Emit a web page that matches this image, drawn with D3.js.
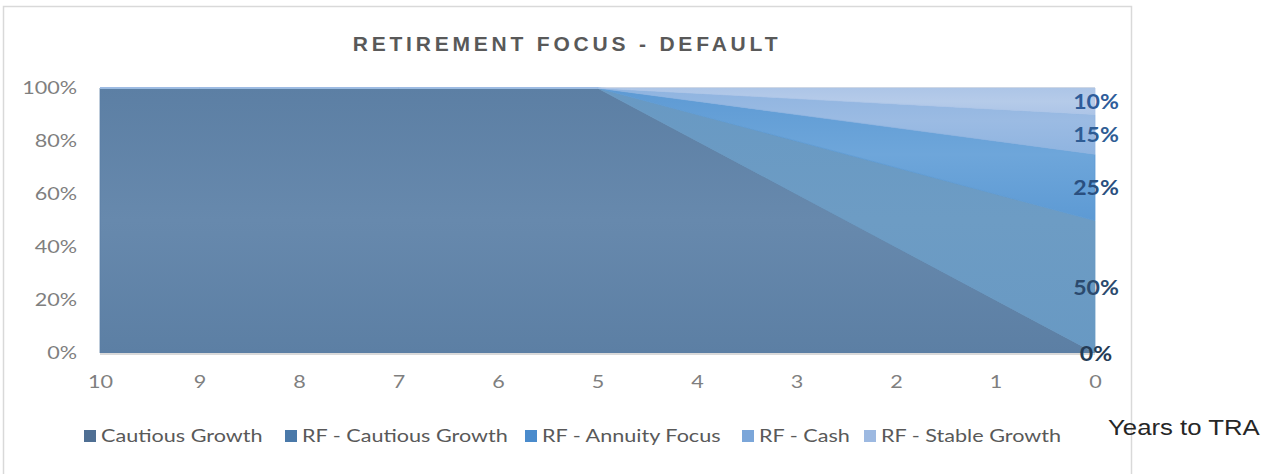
<!DOCTYPE html>
<html>
<head>
<meta charset="utf-8">
<script src="https://cdn.jsdelivr.net/npm/d3@7"></script>
<style>
  body { margin: 0; background: #fff; }
  svg { display: block; }
</style>
</head>
<body>
<div class="chart"></div>
<script>
//Data
var years = [10, 9, 8, 7, 6, 5, 4, 3, 2, 1, 0];
var seriesNames = ["Cautious Growth", "RF - Cautious Growth", "RF - Annuity Focus", "RF - Cash", "RF - Stable Growth"];
var cautiousGrowth = [100, 100, 100, 100, 100, 100, 80, 60, 40, 20, 0];
var rfCautiousGrowth = [0, 0, 0, 0, 0, 0, 10, 20, 30, 40, 50];
var rfAnnuityFocus = [0, 0, 0, 0, 0, 0, 5, 10, 15, 20, 25];
var rfCash = [0, 0, 0, 0, 0, 0, 3, 6, 9, 12, 15];
var rfStableGrowth = [0, 0, 0, 0, 0, 0, 2, 4, 6, 8, 10];
var yTicks = [0, 20, 40, 60, 80, 100];

//Width and height
var w = 1280;
var h = 474;
var margin = {left: 100, right: 185, top: 88, bottom: 121};
var stretch = 1.2; //text in the original is drawn a bit wide

//Colors
var legendColor = ["#4f6f93", "#4a79a9", "#4a8bcc", "#7ba6d9", "#9db9e1"];
var fillTop = ["#5c7fa4", "#6899c3", "#5d9ad4", "#8fb4e0", "#adc5e7"];
var fillMid = ["#6789ad", "#6d9cc4", "#6ea6da", "#9bbbe3", "#b5cbe9"];
var labelColor = ["#243b55", "#2b4a6e", "#2a4f7f", "#2e5c94", "#2e5c9a"];

var table = years.map(function (y, i) {
    return {
        year: y,
        "Cautious Growth": cautiousGrowth[i],
        "RF - Cautious Growth": rfCautiousGrowth[i],
        "RF - Annuity Focus": rfAnnuityFocus[i],
        "RF - Cash": rfCash[i],
        "RF - Stable Growth": rfStableGrowth[i]
    };
});

//Create SVG element
var svg = d3.select(".chart")
    .append("svg")
    .attr("width", w)
    .attr("height", h);

//Outer frame
svg.append("rect")
    .attr("x", 3.5)
    .attr("y", 6.5)
    .attr("width", 1128)
    .attr("height", 475)
    .attr("fill", "none")
    .attr("stroke", "#d9d9d9")
    .attr("stroke-width", 1.5);

//Gradients
var defs = svg.append("defs");
seriesNames.forEach(function (s, i) {
    var g = defs.append("linearGradient")
        .attr("id", "grad" + i)
        .attr("x1", 0).attr("y1", 0).attr("x2", 0).attr("y2", 1);
    g.append("stop").attr("offset", "0%").attr("stop-color", fillTop[i]);
    g.append("stop").attr("offset", "50%").attr("stop-color", fillMid[i]);
    g.append("stop").attr("offset", "100%").attr("stop-color", fillTop[i]);
});

//Scales
var xScale = d3.scaleLinear()
    .domain([10, 0])
    .range([margin.left, w - margin.right]);

var yScale = d3.scaleLinear()
    .domain([0, 100])
    .range([h - margin.bottom, margin.top]);

//Title
svg.append("text")
    .attr("x", 567)
    .attr("y", 51)
    .attr("text-anchor", "middle")
    .style("font-family", "'Liberation Sans', Arial, sans-serif")
    .style("font-weight", "bold")
    .style("font-size", "21px")
    .style("letter-spacing", "3.8px")
    .style("fill", "#595959")
    .text("RETIREMENT FOCUS - DEFAULT");

//Gridline at top
svg.append("line")
    .attr("x1", xScale(10)).attr("x2", xScale(0))
    .attr("y1", yScale(100) - 0.5).attr("y2", yScale(100) - 0.5)
    .attr("stroke", "#e3e3e3");

//Stacked areas
var stack = d3.stack().keys(seriesNames);
var layers = stack(table);

var area = d3.area()
    .x(function (d) { return xScale(d.data.year); })
    .y0(function (d) { return yScale(d[0]); })
    .y1(function (d) { return yScale(d[1]); });

svg.selectAll(".layer")
    .data(layers)
    .enter()
    .append("path")
    .attr("class", "layer")
    .attr("d", area)
    .attr("fill", function (d, i) { return "url(#grad" + i + ")"; })
    .attr("stroke", function (d, i) { return fillTop[i]; })
    .attr("stroke-width", 0.8);

svg.append("line")
    .attr("x1", xScale(10)).attr("x2", xScale(0))
    .attr("y1", yScale(0) + 1).attr("y2", yScale(0) + 1)
    .attr("stroke", "#d9d9d9")
    .attr("stroke-width", 2);

//Axes
var xAxis = d3.axisBottom(xScale).tickValues(years).tickSize(0).tickPadding(0);
var gx = svg.append("g")
    .attr("transform", "translate(0, " + (h - margin.bottom) + ")")
    .call(xAxis);
gx.select(".domain").remove();
gx.selectAll("text")
    .attr("dy", "35px")
    .attr("transform", "scale(" + stretch + ",1)")
    .style("font-family", "Lato, 'Open Sans', sans-serif")
    .style("font-size", "18px")
    .style("fill", "#7f7f7f");

var yAxis = d3.axisLeft(yScale).tickValues(yTicks).tickSize(0).tickPadding(23)
    .tickFormat(function (d) { return d + "%"; });
var gy = svg.append("g")
    .attr("transform", "translate(" + margin.left + ", 0)")
    .call(yAxis);
gy.select(".domain").remove();
gy.selectAll("text")
    .attr("x", -23 / stretch)
    .attr("transform", "scale(" + stretch + ",1)")
    .style("font-family", "Lato, 'Open Sans', sans-serif")
    .style("font-size", "18px")
    .style("fill", "#7f7f7f");

//End labels at year 0
var last = layers.map(function (l, i) {
    var d = l[l.length - 1];
    return {i: i, v: d[1] - d[0], mid: (d[0] + d[1]) / 2};
});
svg.selectAll(".endlabel")
    .data(last)
    .enter()
    .append("text")
    .attr("class", "endlabel")
    .attr("transform", function (d) {
        var y = d.v === 0 ? yScale(0) + 8 : yScale(d.mid) + 8;
        return "translate(" + (xScale(0) + 1) + "," + y + ") scale(1.1,1)";
    })
    .attr("text-anchor", "middle")
    .style("font-family", "Lato, 'Open Sans', sans-serif")
    .style("font-weight", "bold")
    .style("font-size", "21px")
    .style("fill", function (d) { return labelColor[d.i]; })
    .text(function (d) { return d.v + "%"; });

//Legend
var legendX = [84, 285, 525, 742, 864];
var legend = svg.selectAll(".legend")
    .data(seriesNames)
    .enter()
    .append("g")
    .attr("class", "legend")
    .attr("transform", function (d, i) { return "translate(" + legendX[i] + ", 436)"; });

legend.append("rect")
    .attr("x", 0)
    .attr("y", -6)
    .attr("width", 12)
    .attr("height", 12)
    .style("fill", function (d, i) { return legendColor[i]; });

legend.append("text")
    .attr("transform", "translate(17,0) scale(" + stretch + ",1)")
    .attr("dy", "0.36em")
    .style("font-family", "Lato, 'Open Sans', sans-serif")
    .style("font-size", "18px")
    .style("fill", "#595959")
    .text(function (d) { return d; });

//Axis title outside the frame
svg.append("text")
    .attr("transform", "translate(1108,435) scale(1.12,1)")
    .style("font-family", "'Liberation Sans', Arial, sans-serif")
    .style("font-size", "23px")
    .style("fill", "#262626")
    .text("Years to TRA");
</script>
</body>
</html>
